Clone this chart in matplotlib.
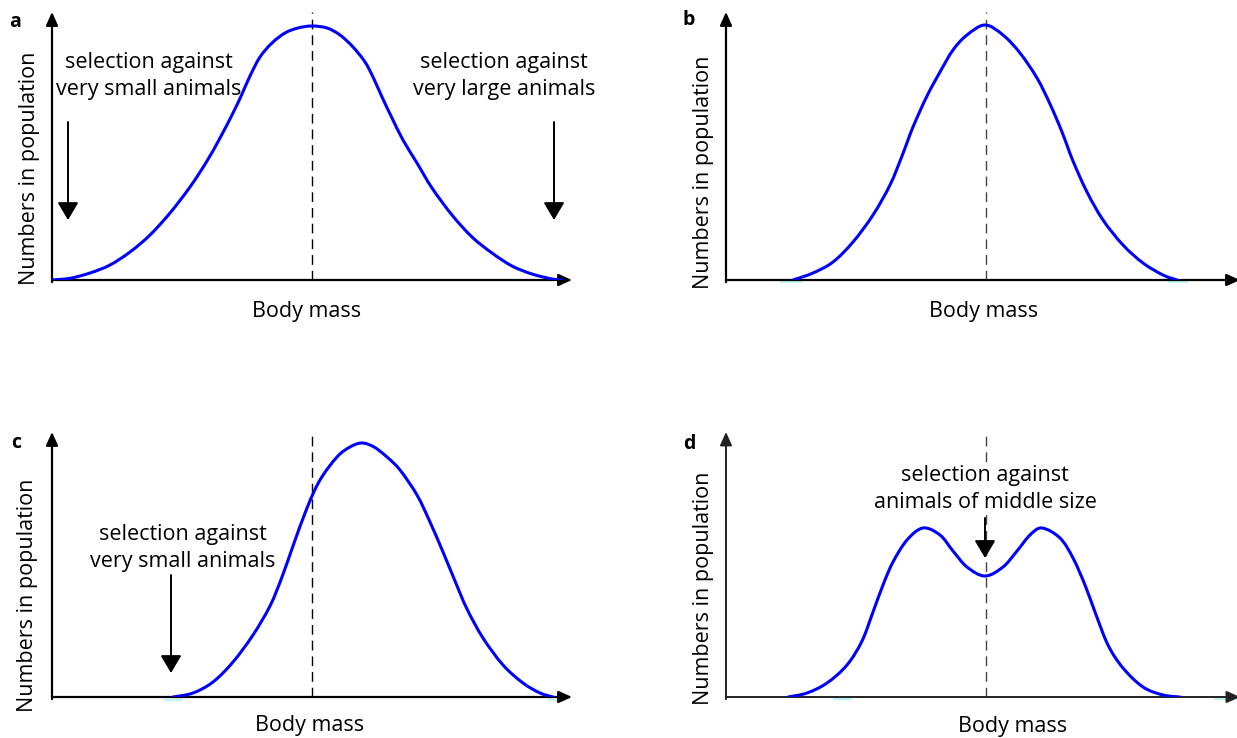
import matplotlib
matplotlib.use("Agg")
import matplotlib.pyplot as plt
import numpy as np
from matplotlib.path import Path
from matplotlib.patches import PathPatch

plt.rcParams['font.family'] = ['Open Sans', 'DejaVu Sans']

# ---------------- data (arbitrary units: body mass from the origin, numbers in population) -------------
# a: stabilising selection (both tails removed)
mass_a = [0, 18, 38, 58, 78, 98, 118, 138, 155, 168, 181, 190, 198, 208, 220, 233, 246, 260,
          275, 288, 301, 313, 321, 330, 340, 351, 365, 380, 400, 420, 440, 460, 480, 500, 510]
count_a = [0, 1.7, 7, 15, 28, 45, 67, 93, 119, 142, 167, 186, 204, 223, 237, 247, 252, 254,
           252, 245, 233, 218, 203, 183, 162, 140, 117, 92, 65, 43, 27, 14, 6, 1, 0]
# b: resulting narrower distribution
mass_b = [67, 87, 107, 127, 147, 164, 176, 187, 201, 214, 227, 241, 259,
          277, 294, 311, 324, 336, 347, 361, 377, 397, 417, 437, 451]
count_b = [0, 7, 18, 38, 65, 95, 124, 153, 184, 208, 230, 245, 255,
           245, 227, 202, 176, 148, 119, 88, 60, 35, 17, 5, 0]
# c: directional selection (shifted distribution)
mass_c = [121, 141, 161, 181, 201, 218, 230, 241, 255, 268, 285, 298, 310,
          322, 335, 348, 365, 378, 391, 403, 415, 431, 451, 471, 488, 501]
count_c = [0, 4, 15, 35, 62, 91, 120, 151, 189, 217, 240, 250, 254,
           250, 240, 227, 202, 175, 145, 116, 88, 59, 32, 14, 4, 0]
# d: disruptive selection (bimodal distribution)
mass_d = [62, 81, 101, 121, 136, 147, 157, 167, 181, 197, 214, 227, 241, 259,
          277, 291, 304, 316, 334, 347, 359, 369, 382, 397, 417, 437, 454]
count_d = [0, 4, 14, 32, 56, 85, 112, 135, 157, 169, 162, 146, 130, 121,
           130, 146, 162, 169, 159, 139, 112, 85, 52, 29, 10, 2, 0]
mean_mass = 260

panel_letters = ['a', 'b', 'c', 'd']
x_label = 'Body mass'
y_label = 'Numbers in population'
text_small = 'selection against\nvery small animals'
text_large = 'selection against\nvery large animals'
text_middle = 'selection against\nanimals of middle size'

# ---------------- figure ----------------
FW, FH = 1237, 738
fig = plt.figure(figsize=(FW / 100, FH / 100), dpi=100)

FS = 15.5


def smooth_curve(ax, xs, ys):
    """Draw a smooth curve through the read points (Catmull-Rom as cubic Beziers)."""
    P = np.column_stack([xs, ys]).astype(float)
    ext = np.vstack([P[0], P, P[-1]])
    verts = [tuple(P[0])]
    codes = [Path.MOVETO]
    for i in range(1, len(ext) - 2):
        p0, p1, p2, p3 = ext[i - 1], ext[i], ext[i + 1], ext[i + 2]
        c1 = p1 + (p2 - p0) / 6.0
        c2 = p2 - (p3 - p1) / 6.0
        verts += [tuple(c1), tuple(c2), tuple(p2)]
        codes += [Path.CURVE4] * 3
    ax.add_patch(PathPatch(Path(verts, codes), fill=False, edgecolor='#0000ff',
                           linewidth=2.2, capstyle='round', joinstyle='round',
                           transform=ax.transData, zorder=3))


def panel(left, base, width, height):
    ax = fig.add_axes([left / FW, (FH - base) / FH, width / FW, height / FH])
    ax.set_xlim(0, width)
    ax.set_ylim(0, height)
    ax.axis('off')
    return ax


def axis_arrows(ax, lw=1.6, color='black'):
    kw = dict(arrowstyle='-|>,head_length=0.8,head_width=0.36', lw=lw, color=color,
              shrinkA=0, shrinkB=0, mutation_scale=10)
    ax.annotate('', xy=(0, 1), xytext=(0, -0.008), xycoords='axes fraction',
                arrowprops=kw, annotation_clip=False)
    ax.annotate('', xy=(1, 0), xytext=(0, 0), xycoords='axes fraction',
                arrowprops=kw, annotation_clip=False)


def down_arrow(ax, x, y0, y1):
    ax.annotate('', xy=(x, y1), xytext=(x, y0),
                arrowprops=dict(arrowstyle='-|>,head_length=0.54,head_width=0.32',
                                lw=1.4, color='black', shrinkA=0, shrinkB=0,
                                mutation_scale=20), zorder=4)


def note(ax, x, y_last_baseline, s, **kw):
    ax.text(x, y_last_baseline, s, ha='center', va='baseline', fontsize=FS,
            linespacing=1.35, multialignment='center', **kw)


def labels(ax, letter, ylab_x, ylab_y, xlab_x, xlab_y, let_x, let_y):
    ax.text(ylab_x, ylab_y, y_label, rotation=90, ha='center', va='center',
            fontsize=FS, clip_on=False)
    ax.text(xlab_x, xlab_y, x_label, ha='center', va='baseline', fontsize=FS, clip_on=False)
    ax.text(let_x, let_y, letter, ha='center', va='center', fontsize=14,
            fontweight='bold', clip_on=False)


def cyan(ax, x0, x1, y):
    ax.plot([x0, x1], [y, y], color='#bdf3f3', lw=1.6, solid_capstyle='butt',
            zorder=1, clip_on=False)


dash = dict(color='black', lw=1.0, linestyle=(0, (7, 4.3)), zorder=2)

# ---- panel a ----
ax = panel(52, 280, 520, 268)
axis_arrows(ax)
ax.axvline(mean_mass, **dash)
smooth_curve(ax, mass_a, count_a)
note(ax, 97, 185, text_small)
note(ax, 452, 185, text_large)
down_arrow(ax, 16, 158, 60)
down_arrow(ax, 502, 158, 60)
labels(ax, panel_letters[0], -23, 112, 255, -37, -37, 258)

# ---- panel b ----
ax = panel(726, 280, 514, 268)
axis_arrows(ax)
ax.axvline(mean_mass, **{**dash, 'color': '#444444'})
smooth_curve(ax, mass_b, count_b)
cyan(ax, 54, 76, -2)
cyan(ax, 442, 462, -2)
labels(ax, panel_letters[1], -23, 108, 258, -37, -37, 260)

# ---- panel c ----
ax = panel(52, 697, 520, 265)
axis_arrows(ax)
ax.axvline(mean_mass, **dash)
smooth_curve(ax, mass_c, count_c)
note(ax, 131, 130, text_small)
down_arrow(ax, 119, 122, 24)
cyan(ax, 112, 130, -3)
cyan(ax, 496, 514, -3)
labels(ax, panel_letters[2], -24, 102, 258, -34, -36, 254)

# ---- panel d ----
ax = panel(726, 697, 514, 265)
axis_arrows(ax, lw=1.4, color='#222222')
ax.axvline(mean_mass, **{**dash, 'color': '#444444'})
smooth_curve(ax, mass_d, count_d)
note(ax, 259, 189, text_middle, zorder=5,
     bbox=dict(facecolor='white', edgecolor='none', pad=1))
down_arrow(ax, 259, 179, 139)
cyan(ax, 107, 126, -2)
cyan(ax, 488, 511, -2)
labels(ax, panel_letters[3], -23, 109, 287, -35, -37, 253)

fig.savefig('out.png', dpi=100)
